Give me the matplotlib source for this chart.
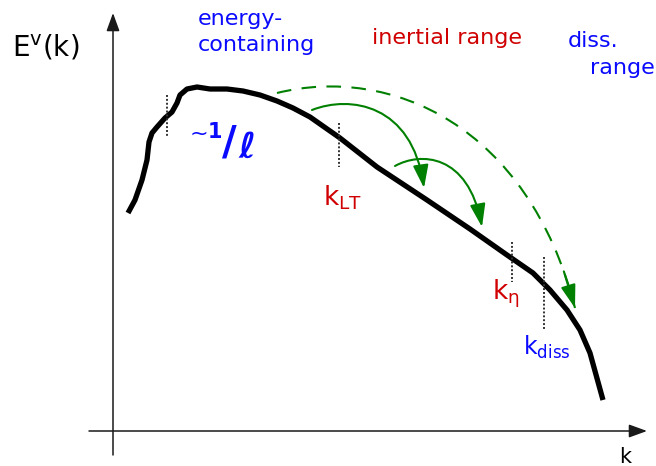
import matplotlib
matplotlib.use("Agg")
import matplotlib.pyplot as plt
from matplotlib.patches import FancyArrowPatch, PathPatch
from matplotlib.path import Path

plt.rcParams['font.family'] = ['DejaVu Sans']
plt.rcParams['mathtext.default'] = 'regular'

# ---- data (schematic spectrum in pixel-like units) ----
curve_x = [128, 135, 142, 147, 149, 152, 157, 165, 172, 177, 180, 187, 197, 210,
           227, 243, 260, 277, 293, 310, 320, 340, 377, 427, 470, 507, 533, 550,
           567, 580, 590, 603]
curve_y = [213, 200, 180, 160, 142, 133, 127, 118, 112, 103, 95, 89, 87, 89,
           89, 91, 95, 101, 108, 117, 124, 138, 167, 200, 229, 255, 273, 290,
           310, 330, 353, 400]

marker_x = [167, 339, 512, 544]
marker_ytop = [95, 123, 242, 257]
marker_ybot = [137, 167, 282, 329]

arrow1_ctrl = [(312, 110), (350, 95), (412, 104), (424, 188)]
arrow2_ctrl = [(395, 166), (420, 152), (468, 153), (482, 227)]
dashed_ctrl = [(277, 93), (390, 65), (528, 125), (575, 308)]

xaxis = [(89, 431), (647, 431)]
yaxis = [(113, 455), (113, 13)]

BLUE = '#0a0aff'
RED = '#d00000'
GREEN = '#008000'

fig = plt.figure(figsize=(6.56, 4.66), dpi=100)
ax = fig.add_axes([0, 0, 1, 1])
ax.set_xlim(0, 656)
ax.set_ylim(466, 0)
ax.axis('off')

# axes arrows
for p0, p1 in (xaxis, yaxis):
    ax.add_patch(FancyArrowPatch(p0, p1, arrowstyle='-|>,head_length=11,head_width=4',
                                 mutation_scale=1, color='#1a1a1a', lw=1.1,
                                 shrinkA=0, shrinkB=0))

# spectrum curve
ax.plot(curve_x, curve_y, color='black', lw=3.8, solid_capstyle='butt',
        solid_joinstyle='round')

# dotted markers
for x, y0, y1 in zip(marker_x, marker_ytop, marker_ybot):
    ax.plot([x, x], [y0, y1], color='#333333', lw=1.4, dashes=(1, 1))

# solid curved cascade arrows
codes = [Path.MOVETO, Path.CURVE4, Path.CURVE4, Path.CURVE4]
for ctrl in (arrow1_ctrl, arrow2_ctrl):
    ax.add_patch(FancyArrowPatch(path=Path(ctrl, codes),
                                 arrowstyle='-|>,head_length=14,head_width=4.7',
                                 mutation_scale=1, color=GREEN, lw=1.5))

# dashed arrow: body + head
def bez(ctrl, t):
    (x0, y0), (x1, y1), (x2, y2), (x3, y3) = ctrl
    a, b, c, d = (1 - t) ** 3, 3 * (1 - t) ** 2 * t, 3 * (1 - t) * t ** 2, t ** 3
    return (a * x0 + b * x1 + c * x2 + d * x3, a * y0 + b * y1 + c * y2 + d * y3)

ax.add_patch(PathPatch(Path(dashed_ctrl, codes), fill=False, edgecolor=GREEN,
                       lw=1.5, linestyle=(0, (7, 5))))
ax.add_patch(FancyArrowPatch(bez(dashed_ctrl, 0.93), dashed_ctrl[-1],
                             arrowstyle='-|>,head_length=14,head_width=4.5',
                             mutation_scale=1, color=GREEN, lw=1.5,
                             shrinkA=0, shrinkB=0))

# texts
ax.text(12, 57, r'$E^{v}(k)$', fontsize=20, color='black', ha='left', va='baseline')
ax.text(198, 25, 'energy-', fontsize=16, color=BLUE, ha='left', va='baseline')
ax.text(198, 51, 'containing', fontsize=16, color=BLUE, ha='left', va='baseline')
ax.text(372, 44, 'inertial range', fontsize=16, color=RED, ha='left', va='baseline')
ax.text(568, 47, 'diss.', fontsize=16, color=BLUE, ha='left', va='baseline')
ax.text(590, 74, 'range', fontsize=16, color=BLUE, ha='left', va='baseline')

ax.text(323, 205, r'$k_{LT}$', fontsize=19, color=RED, ha='left', va='baseline')
ax.text(492, 300, r'$k_{\eta}$', fontsize=19, color=RED, ha='left', va='baseline')
ax.text(523, 355, r'$k_{diss}$', fontsize=17, color=BLUE, ha='left', va='baseline')
ax.text(619, 463, 'k', fontsize=15, color='black', ha='left', va='baseline')

# ~1/l (composite symbol)
ax.text(208, 140, '~', fontsize=16, color=BLUE, ha='right', va='baseline')
ax.text(222, 138, '1', fontsize=15, color=BLUE, ha='right', va='baseline', fontweight='bold')
ax.text(222, 154, '/', fontsize=29, color=BLUE, ha='left', va='baseline', fontweight='bold')
ax.text(238, 158, 'ℓ', fontsize=26, color=BLUE, ha='left', va='baseline',
        style='italic', fontweight='bold')

fig.savefig('out.png', dpi=100)
